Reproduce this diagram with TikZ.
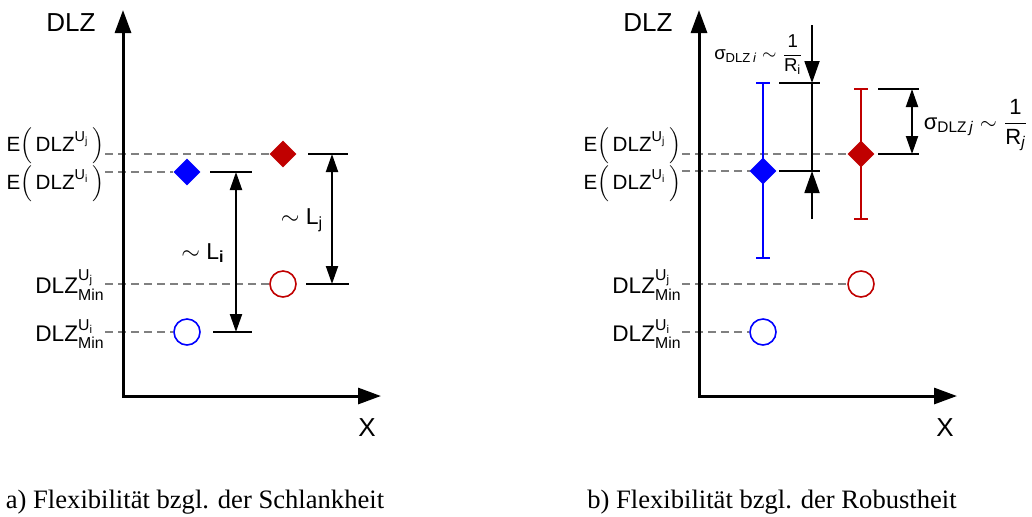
\documentclass[tikz,border=0pt]{standalone}
\usepackage{fontspec}
\setmainfont{Liberation Sans}
\newfontfamily\capfont{Liberation Serif}
\usepackage{tikz}
\usetikzlibrary{arrows.meta,shapes.geometric}
\definecolor{dlzBlue}{HTML}{0000FF}
\definecolor{dlzRed}{HTML}{C00000}
\definecolor{dlzGray}{HTML}{808080}

\begin{document}
\begin{tikzpicture}[x=.5pt,y=-.5pt,
  axis/.style={line width=1.5pt,{Triangle[length=11.5pt,width=8pt]}-{Triangle[length=11.5pt,width=8pt]}},
  guide/.style={dlzGray,line width=.6pt,dash pattern=on 4pt off 2.5pt},
  tick/.style={line width=1.2pt},
  dim/.style={line width=.9pt},
  dimar/.style={line width=1pt,{Triangle[length=9pt,width=6pt]}-{Triangle[length=9pt,width=6pt]}},
  ebar/.style={line width=1.3pt},
  dia/.style={diamond,minimum size=13.5pt,inner sep=0pt},
  ring/.style={circle,minimum size=13pt,inner sep=0pt,line width=.8pt},
  axlab/.style={font=\fontsize{13}{15}\selectfont},
  elab/.style={anchor=base east,inner sep=0pt,font=\fontsize{10.3}{12}\selectfont},
  mlab/.style={anchor=base east,inner sep=0pt,font=\fontsize{11.3}{13}\selectfont},
  captext/.style={anchor=base,font=\capfont\fontsize{13.3}{16}\selectfont}]
  \useasboundingbox (0,0) rectangle (1032,516);
  \def\ylabels#1#2{%
    \node[elab] (#1Ej) at (#2,151) {E$\Bigl(\,\mathrm{DLZ}^{\mathrm{U}_\mathrm{j}}\,\Bigr)$};
    \node[elab] (#1Ei) at (#2,189) {E$\Bigl(\,\mathrm{DLZ}^{\mathrm{U}_\mathrm{i}}\,\Bigr)$};
    \node[mlab] (#1Mj) at (#2,293) {$\mathrm{DLZ}^{\mathrm{U}_\mathrm{j}}_{\mathrm{Min}}$};
    \node[mlab] (#1Mi) at (#2,341) {$\mathrm{DLZ}^{\mathrm{U}_\mathrm{i}}_{\mathrm{Min}}$};
  }

  \ylabels{l}{105}
  \node[dia,fill=dlzBlue] (ldi) at (187,172) {};
  \node[dia,fill=dlzRed] (ldj) at (283,154) {};
  \node[ring,draw=dlzRed] (lcj) at (283,284) {};
  \node[ring,draw=dlzBlue] (lci) at (187,332) {};
  \draw[guide] (lEj.east |- ldj.west) -- (ldj.west);
  \draw[guide] (lEi.east |- ldi.west) -- (ldi.west);
  \draw[guide] (lMj.east |- lcj.west) -- (lcj.west);
  \draw[guide] (lMi.east |- lci.west) -- (lci.west);
  \coordinate (lO) at (123,396);
  \coordinate (lY) at (123,10);
  \coordinate (lX) at (381,396);
  \draw[axis] (lY) -- (lO) -- (lX);
  \node[axlab] (lDLZ) at (71,23) {DLZ};
  \node[axlab] (lXlab) at (367,428) {X};
  \draw[tick] (210,172) -- (252,172) (213,332) -- (252,332) (308,154) -- (348,154) (306,284) -- (349,284);
  \coordinate (liT) at (236,172);
  \coordinate (liB) at (236,332);
  \coordinate (ljT) at (332,154);
  \coordinate (ljB) at (332,284);
  \draw[dimar] (liT) -- (liB);
  \draw[dimar] (ljT) -- (ljB);
  \node[font=\fontsize{11.5}{13}\selectfont] (Li) at (203,253) {$\sim$ L$_\mathbf{i}$};
  \node[font=\fontsize{11.5}{13}\selectfont] (Lj) at (302,220) {$\sim$ L$_\mathrm{j}$};

  \ylabels{r}{682}
  \node[ring,draw=dlzRed] (rcj) at (861,284) {};
  \node[ring,draw=dlzBlue] (rci) at (763,332) {};
  \coordinate (rdjW) at (848,154);
  \coordinate (rdiW) at (750,171);
  \draw[guide] (rEj.east |- rdjW) -- (rdjW);
  \draw[guide] (rEi.east |- rdiW) -- (rdiW);
  \draw[guide] (rMj.east |- rcj.west) -- (rcj.west);
  \draw[guide] (rMi.east |- rci.west) -- (rci.west);
  \coordinate (rO) at (699,396);
  \coordinate (rY) at (699,10);
  \coordinate (rX) at (957,396);
  \draw[axis] (rY) -- (rO) -- (rX);
  \node[axlab] (rDLZ) at (648,23) {DLZ};
  \node[axlab] (rXlab) at (945,428) {X};
  \coordinate (eiT) at (763,83);
  \coordinate (eiB) at (763,258);
  \coordinate (ejT) at (861,89);
  \coordinate (ejB) at (861,219);
  \draw[ebar,dlzBlue] (eiT) -- (eiB) (756,83) -- (770,83) (756,258) -- (770,258);
  \draw[ebar,dlzRed] (ejT) -- (ejB) (854,89) -- (868,89) (854,219) -- (868,219);
  \node[dia,fill=dlzBlue] (rdi) at (763,171) {};
  \node[dia,fill=dlzRed] (rdj) at (861,154) {};
  \draw[tick] (779,83) -- (820,83) (779,171) -- (820,171) (878,89) -- (919,89) (878,154) -- (919,154);
  \coordinate (sTop) at (812,25);
  \coordinate (sA) at (812,83);
  \coordinate (sB) at (812,171);
  \coordinate (sBot) at (812,219);
  \draw[dim,-{Triangle[length=11pt,width=7.5pt]}] (sTop) -- (sA);
  \draw[dim] (sA) -- (sB);
  \draw[dim,-{Triangle[length=11pt,width=7.5pt]}] (sBot) -- (sB);
  \coordinate (sjT) at (912,89);
  \coordinate (sjB) at (912,154);
  \draw[dimar] (sjT) -- (sjB);
  \node[font=\fontsize{9.3}{11}\selectfont] (sigI) at (759,55) {σ$_{\mathrm{DLZ}\,\mathit{i}}\sim\displaystyle\frac{\mathrm{1}}{\mathrm{R}_\mathrm{i}}$};
  \node[font=\fontsize{11}{13}\selectfont] (sigJ) at (976,125) {σ$_{\mathrm{DLZ}\,\mathit{j}}\sim\displaystyle\frac{\mathrm{1}}{\mathrm{R}_\mathit{j}}$};

  \node[captext] (capA) at (195,508) {a) Flexibilität bzgl. der Schlankheit};
  \node[captext] (capB) at (772,508) {b) Flexibilität bzgl. der Robustheit};
\end{tikzpicture}
\end{document}
